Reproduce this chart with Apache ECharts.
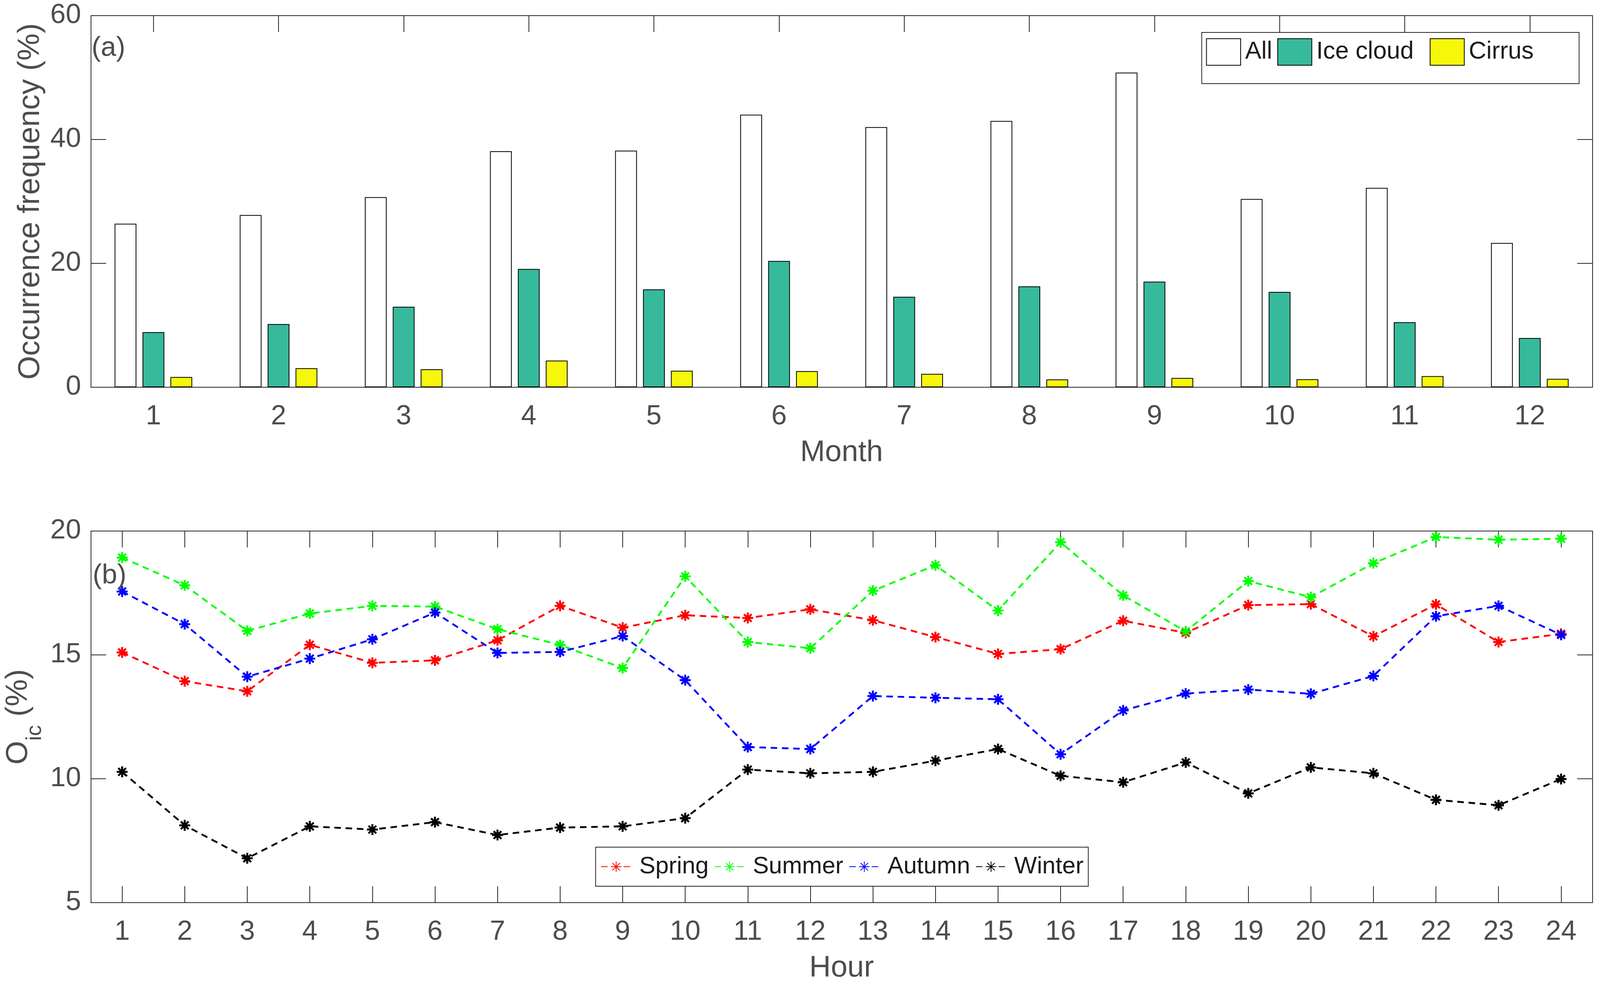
<!DOCTYPE html>
<html>
<head>
<meta charset="utf-8">
<script src="https://cdn.jsdelivr.net/npm/echarts@6/dist/echarts.min.js"></script>
<style>
html,body{margin:0;padding:0;background:#fff;overflow:hidden;}
#chart{width:100vw;height:100vh;}
</style>
</head>
<body>
<div id="chart"></div>
<script>
// ---------- Data ----------
const months = ['1','2','3','4','5','6','7','8','9','10','11','12'];
const allCloud = [26.4, 27.8, 30.7, 38.1, 38.2, 44.0, 42.0, 43.0, 50.8, 30.4, 32.2, 23.3];
const iceCloud = [8.9, 10.2, 13.0, 19.1, 15.8, 20.4, 14.6, 16.3, 17.05, 15.4, 10.5, 7.95];
const cirrus   = [1.66, 3.07, 2.9, 4.3, 2.67, 2.6, 2.16, 1.26, 1.5, 1.3, 1.8, 1.36];

const hours = ['1','2','3','4','5','6','7','8','9','10','11','12','13','14','15','16','17','18','19','20','21','22','23','24'];
const spring = [15.10, 13.94, 13.53, 15.41, 14.68, 14.78, 15.59, 16.98, 16.10, 16.60, 16.49, 16.84, 16.40, 15.72, 15.04, 15.23, 16.38, 15.89, 17.01, 17.05, 15.75, 17.04, 15.52, 15.85];
const summer = [18.93, 17.81, 15.97, 16.67, 16.98, 16.95, 16.04, 15.40, 14.47, 18.17, 15.52, 15.27, 17.59, 18.62, 16.79, 19.55, 17.40, 15.95, 17.98, 17.33, 18.70, 19.76, 19.65, 19.69];
const autumn = [17.56, 16.24, 14.12, 14.85, 15.63, 16.71, 15.08, 15.12, 15.76, 13.98, 11.28, 11.20, 13.34, 13.27, 13.21, 10.99, 12.76, 13.44, 13.60, 13.43, 14.15, 16.56, 16.98, 15.81];
const winter = [10.28, 8.12, 6.79, 8.08, 7.95, 8.25, 7.73, 8.03, 8.08, 8.41, 10.37, 10.22, 10.28, 10.73, 11.20, 10.12, 9.86, 10.66, 9.41, 10.46, 10.22, 9.15, 8.93, 9.99];

const yTicksA = {min: 0, max: 60, interval: 20};
const yTicksB = {min: 5, max: 20, interval: 5};

// ---------- Layout (designed for 4403 x 2531, stretched to the viewport) ----------
const W0 = 4403, H0 = 2531;
const sx = window.innerWidth / W0, sy = window.innerHeight / H0;
const SX = v => v * sx;
const SY = v => v * sy;
const F = v => v * Math.min(sx, sy);

const FONT = '"Liberation Sans", Arial, Helvetica, sans-serif';
const AX = '#262626';
const TXT = '#4d4d4d';
const LEG = '#1c1c1c';
const asterisk = 'path://M10,0 L10,20 M0,10 L20,10 M3,3 L17,17 M3,17 L17,3';

const GA = {left: SX(250), top: SY(40), width: SX(4132), height: SY(951)};
const GB = {left: SX(250), top: SY(1359), width: SX(4132), height: SY(951)};

function catAxis(grid, data, pos, showLabel, name) {
  return {
    type: 'category', gridIndex: grid, data: data, position: pos, boundaryGap: true,
    axisLine: {show: true, onZero: false, lineStyle: {color: AX, width: 2}},
    axisTick: {show: true, inside: true, length: SY(42), alignWithLabel: true, lineStyle: {color: AX, width: 2}},
    axisLabel: {show: showLabel, color: TXT, fontSize: F(76), fontFamily: FONT, margin: SY(40)},
    splitLine: {show: false},
    name: name || '', nameLocation: 'middle', nameGap: SY(130),
    nameTextStyle: {color: TXT, fontSize: F(82), fontFamily: FONT}
  };
}
function valAxis(grid, t, pos, showLabel, name, extra) {
  const a = {
    type: 'value', gridIndex: grid, position: pos, min: t.min, max: t.max, interval: t.interval,
    axisLine: {show: true, onZero: false, lineStyle: {color: AX, width: 2}},
    axisTick: {show: true, inside: true, length: SX(42), lineStyle: {color: AX, width: 2}},
    axisLabel: {show: showLabel, color: TXT, fontSize: F(76), fontFamily: FONT, margin: SX(27)},
    splitLine: {show: false},
    name: name || '', nameLocation: 'middle', nameRotate: 90, nameGap: SX(117),
    nameTextStyle: {color: TXT, fontSize: F(84), fontFamily: FONT}
  };
  return Object.assign(a, extra || {});
}

function barSeries(name, data, color) {
  return {
    type: 'bar', name: name, data: data, xAxisIndex: 0, yAxisIndex: 0,
    barWidth: SX(60), barGap: '28%',
    itemStyle: {color: color, borderColor: '#000', borderWidth: 2},
    emphasis: {disabled: true}
  };
}
function lineSeries(name, data, color) {
  return {
    type: 'line', name: name, data: data, xAxisIndex: 2, yAxisIndex: 2,
    symbol: asterisk, symbolSize: F(30),
    lineStyle: {color: color, width: F(5), type: [F(18), F(13)]},
    itemStyle: {color: color, borderColor: color, borderWidth: F(5.5)},
    emphasis: {disabled: true}
  };
}

const chart = echarts.init(document.getElementById('chart'), null, {renderer: 'canvas'});
chart.setOption({
  animation: false,
  backgroundColor: '#fff',
  grid: [GA, GB],
  xAxis: [
    catAxis(0, months, 'bottom', true, 'Month'),
    catAxis(0, months, 'top', false),
    catAxis(1, hours, 'bottom', true, 'Hour'),
    catAxis(1, hours, 'top', false)
  ],
  yAxis: [
    valAxis(0, yTicksA, 'left', true, 'Occurrence frequency (%)'),
    valAxis(0, yTicksA, 'right', false),
    valAxis(1, yTicksB, 'left', true, '{o|O}{s|ic}{sp| }{m|(%)}', {
      nameGap: SX(123),
      nameTextStyle: {
        color: TXT, fontFamily: FONT, fontSize: F(84),
        rich: {
          o: {fontSize: F(84), lineHeight: SX(84), verticalAlign: 'top', color: TXT, fontFamily: FONT},
          s: {fontSize: F(60), lineHeight: SX(60), verticalAlign: 'bottom', color: TXT, fontFamily: FONT},
          sp: {fontSize: F(84), lineHeight: SX(118), color: TXT, fontFamily: FONT},
          m: {fontSize: F(84), lineHeight: SX(84), verticalAlign: 'top', color: TXT, fontFamily: FONT}
        }
      }
    }),
    valAxis(1, yTicksB, 'right', false)
  ],
  legend: [
    {
      left: SX(3307), top: SY(83), orient: 'horizontal', icon: 'rect',
      itemWidth: SX(94), itemHeight: SY(68), itemGap: SX(14),
      padding: [SY(15), SX(125), SY(46), SX(12)],
      borderColor: AX, borderWidth: 2, backgroundColor: '#fff',
      textStyle: {color: LEG, fontSize: F(67), fontFamily: FONT, lineHeight: SY(68), padding: [0, 0, 0, SX(7)]},
      data: [
        {name: 'All'},
        {name: 'Ice cloud', textStyle: {padding: [0, SX(30), 0, SX(7)]}},
        {name: 'Cirrus'}
      ]
    },
    {
      left: SX(1639), top: SY(2168), orient: 'horizontal',
      itemWidth: SX(83), itemHeight: SY(34), itemGap: SX(15),
      padding: [SY(17), SX(13), SY(17), SX(14)],
      borderColor: AX, borderWidth: 2, backgroundColor: '#fff',
      textStyle: {color: LEG, fontSize: F(66), fontFamily: FONT, lineHeight: SY(66), padding: [0, 0, 0, SX(17)]},
      data: ['Spring', 'Summer', 'Autumn', 'Winter']
    }
  ],
  graphic: [
    {type: 'text', left: SX(252), top: SY(88), z: 100, style: {text: '(a)', font: F(76) + 'px ' + FONT, fill: TXT}},
    {type: 'text', left: SX(255), top: SY(1438), z: 100, style: {text: '(b)', font: F(76) + 'px ' + FONT, fill: TXT}}
  ],
  series: [
    barSeries('All', allCloud, '#ffffff'),
    barSeries('Ice cloud', iceCloud, '#37b99c'),
    barSeries('Cirrus', cirrus, '#f7f70c'),
    lineSeries('Spring', spring, '#ff0000'),
    lineSeries('Summer', summer, '#00ff00'),
    lineSeries('Autumn', autumn, '#0000ff'),
    lineSeries('Winter', winter, '#000000')
  ]
});
window.addEventListener('resize', () => chart.resize());
</script>
</body>
</html>
